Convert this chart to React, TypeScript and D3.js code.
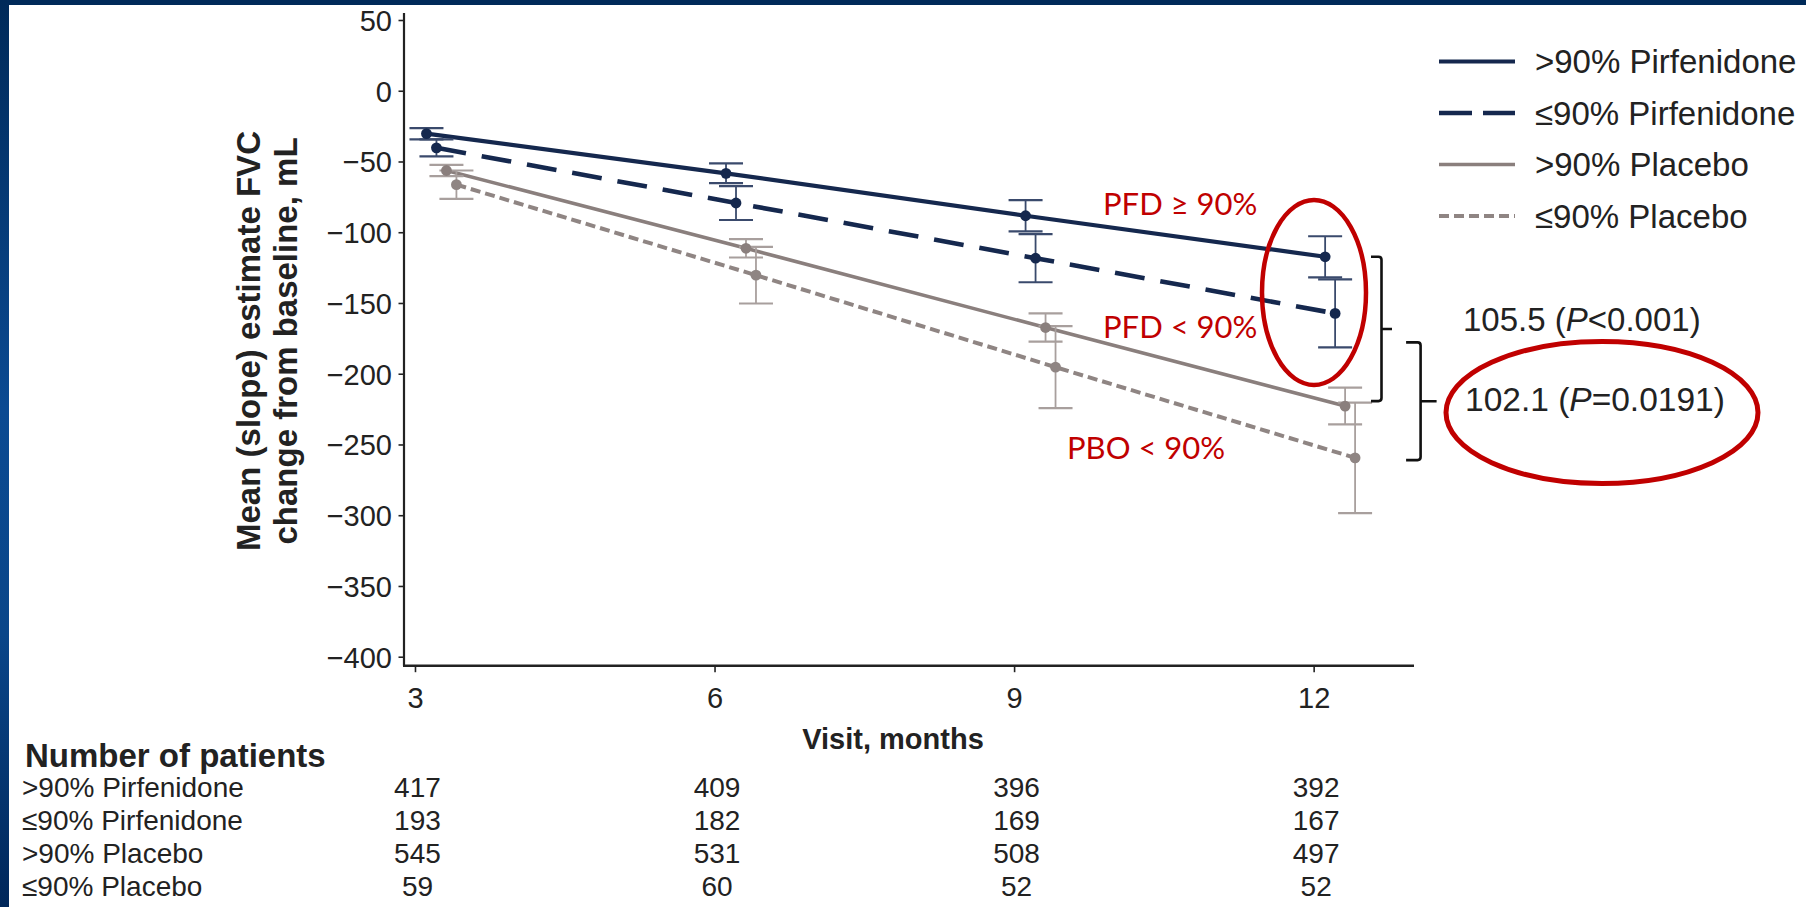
import React from 'react';
import * as d3 from 'd3';

const W = 1806;
const H = 907;

// Visits (months)
const months = [3, 6, 9, 12];

// Series labels
const seriesNames = ['>90% Pirfenidone', '≤90% Pirfenidone', '>90% Placebo', '≤90% Placebo'];

// Mean (slope) estimate of FVC change from baseline, mL, with error half-widths
const pfdHighMean = [-30, -58, -88, -117];
const pfdHighErr = [4, 7, 11, 14.5];
const pfdLowMean = [-40, -79, -118, -157];
const pfdLowErr = [6, 12, 17, 24];
const pboHighMean = [-56, -111, -167, -222.5];
const pboHighErr = [4, 6.5, 10, 13];
const pboLowMean = [-66, -130, -195, -259.1];
const pboLowErr = [10, 20, 29, 39];

// Number of patients at each visit
const patientsPfdHigh = [417, 409, 396, 392];
const patientsPfdLow = [193, 182, 169, 167];
const patientsPboHigh = [545, 531, 508, 497];
const patientsPboLow = [59, 60, 52, 52];

// Axis ticks
const yTicks = [50, 0, -50, -100, -150, -200, -250, -300, -350, -400];
const xTicks = [3, 6, 9, 12];

// Treatment differences at month 12
const diffLabels = [
  { value: '105.5', p: '<0.001' },
  { value: '102.1', p: '=0.0191' },
];

const NAVY = '#15284e';
const NAVY_ERR = '#3a4a6c';
const TAUPE = '#8a7f7d';
const TAUPE_LIGHT = '#8f8583';
const TAUPE_ERR = '#a89f9d';
const RED = '#c00000';
const INK = '#222222';

const FONT = "'Liberation Sans', Arial, Helvetica, sans-serif";

const styles = [
  { color: NAVY, errColor: NAVY_ERR, width: 4.2, dash: undefined as string | undefined, legendDash: undefined as string | undefined, dodge: 0.11 },
  { color: NAVY, errColor: NAVY_ERR, width: 4.6, dash: '30 16', legendDash: '33 11', dodge: 0.21 },
  { color: TAUPE, errColor: TAUPE_ERR, width: 3.6, dash: undefined, legendDash: undefined, dodge: 0.31 },
  { color: TAUPE_LIGHT, errColor: TAUPE_ERR, width: 4, dash: '10 5', legendDash: '10 5', dodge: 0.41 },
];

const series = [
  { name: seriesNames[0], mean: pfdHighMean, err: pfdHighErr, n: patientsPfdHigh },
  { name: seriesNames[1], mean: pfdLowMean, err: pfdLowErr, n: patientsPfdLow },
  { name: seriesNames[2], mean: pboHighMean, err: pboHighErr, n: patientsPboHigh },
  { name: seriesNames[3], mean: pboLowMean, err: pboLowErr, n: patientsPboLow },
].map((s, i) => ({ ...s, ...styles[i] }));

export default function App() {
  const x = d3.scaleLinear().domain([2.885, 13]).range([404, 1414]);
  const y = d3.scaleLinear().domain([-406, 55.3]).range([665.7, 13]);
  const fmt = d3.format('d');

  const line = d3
    .line<[number, number]>()
    .x((d) => x(d[0]))
    .y((d) => y(d[1]));

  const capHalf = 17;
  const axisX = x.range()[0];
  const axisY = y.range()[0];

  // legend placement
  const legX0 = 1439;
  const legX1 = 1515;
  const legTextX = 1535;
  const legY0 = 61.5;
  const legStep = 51.5;

  // bracket spans (in mL) and horizontal placement
  const brackets = [
    { top: -117, bottom: -219, x: 1381.5, hook: 10.5, nub: 10.5 },
    { top: -177.5, bottom: -260.7, x: 1420.6, hook: 14.5, nub: 16 },
  ];

  return (
    <svg
      width={W}
      height={H}
      viewBox={`0 0 ${W} ${H}`}
      style={{ position: 'fixed', left: 0, top: 0, display: 'block', background: '#ffffff' }}
      fontFamily={FONT}
    >
      <defs>
        <linearGradient id="edgeGrad" x1="0" y1="0" x2="0" y2="1">
          <stop offset="0%" stopColor="#002a59" />
          <stop offset="45%" stopColor="#0b4a92" />
          <stop offset="70%" stopColor="#0a4689" />
          <stop offset="100%" stopColor="#00275a" />
        </linearGradient>
      </defs>

      <rect x={0} y={0} width={W} height={H} fill="#ffffff" />
      {/* slide frame */}
      <rect x={0} y={0} width={W} height={5} fill="#002a59" />
      <rect x={0} y={0} width={9} height={H} fill="url(#edgeGrad)" />

      {/* y axis */}
      <line x1={axisX} x2={axisX} y1={y.range()[1]} y2={axisY} stroke={INK} strokeWidth={2.2} />
      {yTicks.map((t) => (
        <g key={t}>
          <line x1={axisX - 5.5} x2={axisX} y1={y(t)} y2={y(t)} stroke={INK} strokeWidth={1.6} />
          <text x={392} y={y(t)} dy="0.36em" textAnchor="end" fontSize={29} fill={INK}>
            {fmt(t)}
          </text>
        </g>
      ))}

      {/* x axis */}
      <line x1={axisX - 1} x2={x.range()[1]} y1={axisY} y2={axisY} stroke={INK} strokeWidth={2.6} />
      {xTicks.map((t) => (
        <g key={t}>
          <line x1={x(t)} x2={x(t)} y1={axisY} y2={axisY + 6.5} stroke={INK} strokeWidth={1.6} />
          <text x={x(t)} y={708} textAnchor="middle" fontSize={29} fill={INK}>
            {t}
          </text>
        </g>
      ))}
      <text x={893} y={748.5} textAnchor="middle" fontSize={29} fontWeight="bold" fill={INK}>
        Visit, months
      </text>

      {/* y axis title */}
      <g transform={`translate(0, 341)`}>
        <text transform={`translate(260, 0) rotate(-90)`} textAnchor="middle" fontSize={33} fontWeight="bold" fill={INK}>
          Mean (slope) estimate FVC
        </text>
        <text transform={`translate(297, 0) rotate(-90)`} textAnchor="middle" fontSize={33} fontWeight="bold" fill={INK}>
          change from baseline, mL
        </text>
      </g>

      {/* slope lines */}
      {series.map((s) => (
        <path
          key={s.name}
          d={line(months.map((m, i) => [m + s.dodge, s.mean[i]] as [number, number])) || ''}
          fill="none"
          stroke={s.color}
          strokeWidth={s.width}
          strokeDasharray={s.dash}
        />
      ))}

      {/* error bars */}
      {series.map((s) =>
        months.map((m, i) => {
          const cx = x(m + s.dodge);
          const yTop = y(s.mean[i] + s.err[i]);
          const yBot = y(s.mean[i] - s.err[i]);
          return (
            <g key={`${s.name}-${m}`} stroke={s.errColor} strokeWidth={1.8}>
              <line x1={cx} x2={cx} y1={yTop} y2={yBot} />
              <line x1={cx - capHalf} x2={cx + capHalf} y1={yTop} y2={yTop} strokeWidth={2.2} />
              <line x1={cx - capHalf} x2={cx + capHalf} y1={yBot} y2={yBot} strokeWidth={2.2} />
            </g>
          );
        })
      )}

      {/* points */}
      {series.map((s) =>
        months.map((m, i) => (
          <circle key={`${s.name}-pt-${m}`} cx={x(m + s.dodge)} cy={y(s.mean[i])} r={5.4} fill={s.color} />
        ))
      )}

      {/* legend */}
      {series.map((s, i) => {
        const ly = legY0 + i * legStep;
        return (
          <g key={`leg-${s.name}`}>
            <line x1={legX0} x2={legX1} y1={ly} y2={ly} stroke={s.color} strokeWidth={s.width} strokeDasharray={s.legendDash} />
            <text x={legTextX} y={ly} dy="0.36em" fontSize={33} fill={INK}>
              {s.name}
            </text>
          </g>
        );
      })}

      {/* annotations */}
      <text x={1103} y={215} fontSize={31} fill={RED} fontFamily="Lato, 'Liberation Sans', sans-serif">
        PFD ≥ 90%
      </text>
      <text x={1103} y={338} fontSize={31} fill={RED} fontFamily="Lato, 'Liberation Sans', sans-serif">
        PFD &lt; 90%
      </text>
      <text x={1067} y={459} fontSize={31} fill={RED} fontFamily="Lato, 'Liberation Sans', sans-serif">
        PBO &lt; 90%
      </text>

      <ellipse cx={1314} cy={292.5} rx={52} ry={92.5} fill="none" stroke={RED} strokeWidth={4.5} />
      <ellipse cx={1602} cy={412.5} rx={156} ry={71} fill="none" stroke={RED} strokeWidth={5} />

      {brackets.map((b, i) => {
        const yt = y(b.top);
        const yb = y(b.bottom);
        const ym = (yt + yb) / 2;
        return (
          <path
            key={`br-${i}`}
            d={`M${b.x - b.hook},${yt} L${b.x - 3},${yt} Q${b.x},${yt} ${b.x},${yt + 3} L${b.x},${yb - 3} Q${b.x},${yb} ${b.x - 3},${yb} L${b.x - b.hook},${yb} M${b.x},${ym} L${b.x + b.nub},${ym}`}
            fill="none"
            stroke="#111111"
            strokeWidth={2.6}
          />
        );
      })}

      <text x={1463} y={331} fontSize={33} fill={INK}>
        {diffLabels[0].value} (<tspan fontStyle="italic">P</tspan>
        {diffLabels[0].p})
      </text>
      <text x={1465} y={411} fontSize={33.5} fill={INK}>
        {diffLabels[1].value} (<tspan fontStyle="italic">P</tspan>
        {diffLabels[1].p})
      </text>

      {/* number-at-risk table */}
      <text x={25} y={767} fontSize={33} fontWeight="bold" fill={INK}>
        Number of patients
      </text>
      {series.map((s, r) => {
        const rowY = 797 + r * 33;
        return (
          <g key={`row-${s.name}`}>
            <text x={22} y={rowY} fontSize={28} fill={INK}>
              {s.name}
            </text>
            {months.map((m, i) => (
              <text key={m} x={x(m) + 2} y={rowY} textAnchor="middle" fontSize={28} fill={INK}>
                {s.n[i]}
              </text>
            ))}
          </g>
        );
      })}
    </svg>
  );
}
